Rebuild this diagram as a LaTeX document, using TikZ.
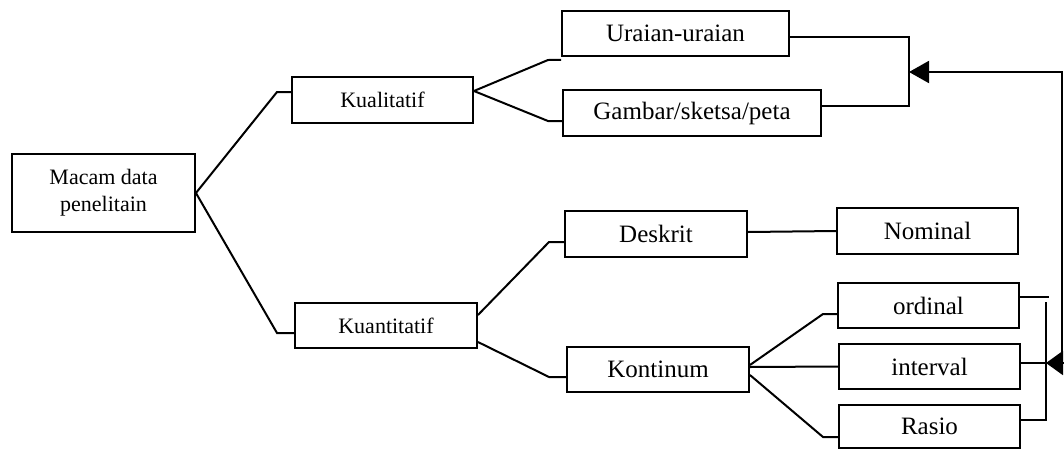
\documentclass[tikz,border=0pt]{standalone}
\usepackage{fontspec}
\setmainfont{Liberation Serif}
\usetikzlibrary{arrows.meta}
\begin{document}
\begin{tikzpicture}[x=1pt,y=-1pt,
  box/.style={draw, line width=1.9pt, rectangle, inner sep=0pt},
  big/.style={font=\fontsize{25}{29}\selectfont},
  small/.style={font=\fontsize{22}{27}\selectfont},
  conn/.style={line width=2pt, line join=miter},
  tip/.style={-{Triangle[length=20pt,width=22pt]}}]
\useasboundingbox (0,0) rectangle (1064,450);
% boxes
\node[box, small, align=center, minimum width=183pt, minimum height=78pt] (macam) at (103.5,193) {Macam data\\penelitain};
\node[box, small, minimum width=181pt, minimum height=46pt] (kual) at (382.5,100) {Kualitatif};
\node[box, small, minimum width=182pt, minimum height=45pt] (kuan) at (386,325.5) {Kuantitatif};
\node[box, big, minimum width=227pt, minimum height=45pt] (uraian) at (675.5,33.5) {Uraian-uraian};
\node[box, big, minimum width=258pt, minimum height=46pt] (gambar) at (692,113) {Gambar/sketsa/peta};
\node[box, big, minimum width=182pt, minimum height=46pt] (deskrit) at (656,234) {Deskrit};
\node[box, big, minimum width=182pt, minimum height=45pt] (kontinum) at (658,369.5) {Kontinum};
\node[box, big, minimum width=181pt, minimum height=46pt] (nominal) at (927.5,231) {Nominal};
\node[box, big, minimum width=181pt, minimum height=45pt] (ordinal) at (928.5,305.5) {ordinal};
\node[box, big, minimum width=181pt, minimum height=45pt] (interval) at (929.5,366.5) {interval};
\node[box, big, minimum width=181pt, minimum height=43pt] (rasio) at (929.5,426.5) {Rasio};
% coordinates
\coordinate (brA) at (909,72);
\coordinate (brB) at (1046,363);
% tree connectors
\draw[conn] (macam.east) -- (277,92) -- ([yshift=8pt]kual.west);
\draw[conn] (macam.east) -- (277,333) -- ([yshift=-7.5pt]kuan.west);
\draw[conn] ([yshift=9pt]kual.east) -- (548,60) -- ([yshift=-3pt]uraian.south west);
\draw[conn] ([yshift=9pt]kual.east) -- (548,121) -- ([yshift=-8pt]gambar.west);
\draw[conn] ([yshift=10.5pt]kuan.east) -- (549,242) -- ([yshift=-8pt]deskrit.west);
\draw[conn] ([yshift=-16.5pt]kuan.east) -- (549,377) -- ([yshift=-7.5pt]kontinum.west);
\draw[conn] ([yshift=2pt]deskrit.east) -- (nominal.west);
\draw[conn] ([yshift=4.5pt]kontinum.east) -- (823,314) -- ([yshift=-8.5pt]ordinal.west);
\draw[conn] ([yshift=2.5pt]kontinum.east) -- (interval.west);
\draw[conn] ([yshift=-5.5pt]kontinum.east) -- (823,437) -- ([yshift=-10.5pt]rasio.west);
% upper bracket
\draw[conn] ([yshift=-3.5pt]uraian.east) -- (909,37) -- (909,106) -- ([yshift=7pt]gambar.east);
% lower bracket
\draw[conn] ([yshift=8.5pt]ordinal.east) -- (1049,297);
\draw[conn] (1046,302) -- (1046,420) -- ([yshift=6.5pt]rasio.east);
\draw[conn] ([yshift=3.5pt]interval.east) -- (brB);
% feedback arrow
\draw[conn, tip] (1062,373) -- (1062,72) -- (brA);
\draw[conn, -{Triangle[length=17pt,width=24pt]}] (1064,363) -- (brB);
\end{tikzpicture}
\end{document}
